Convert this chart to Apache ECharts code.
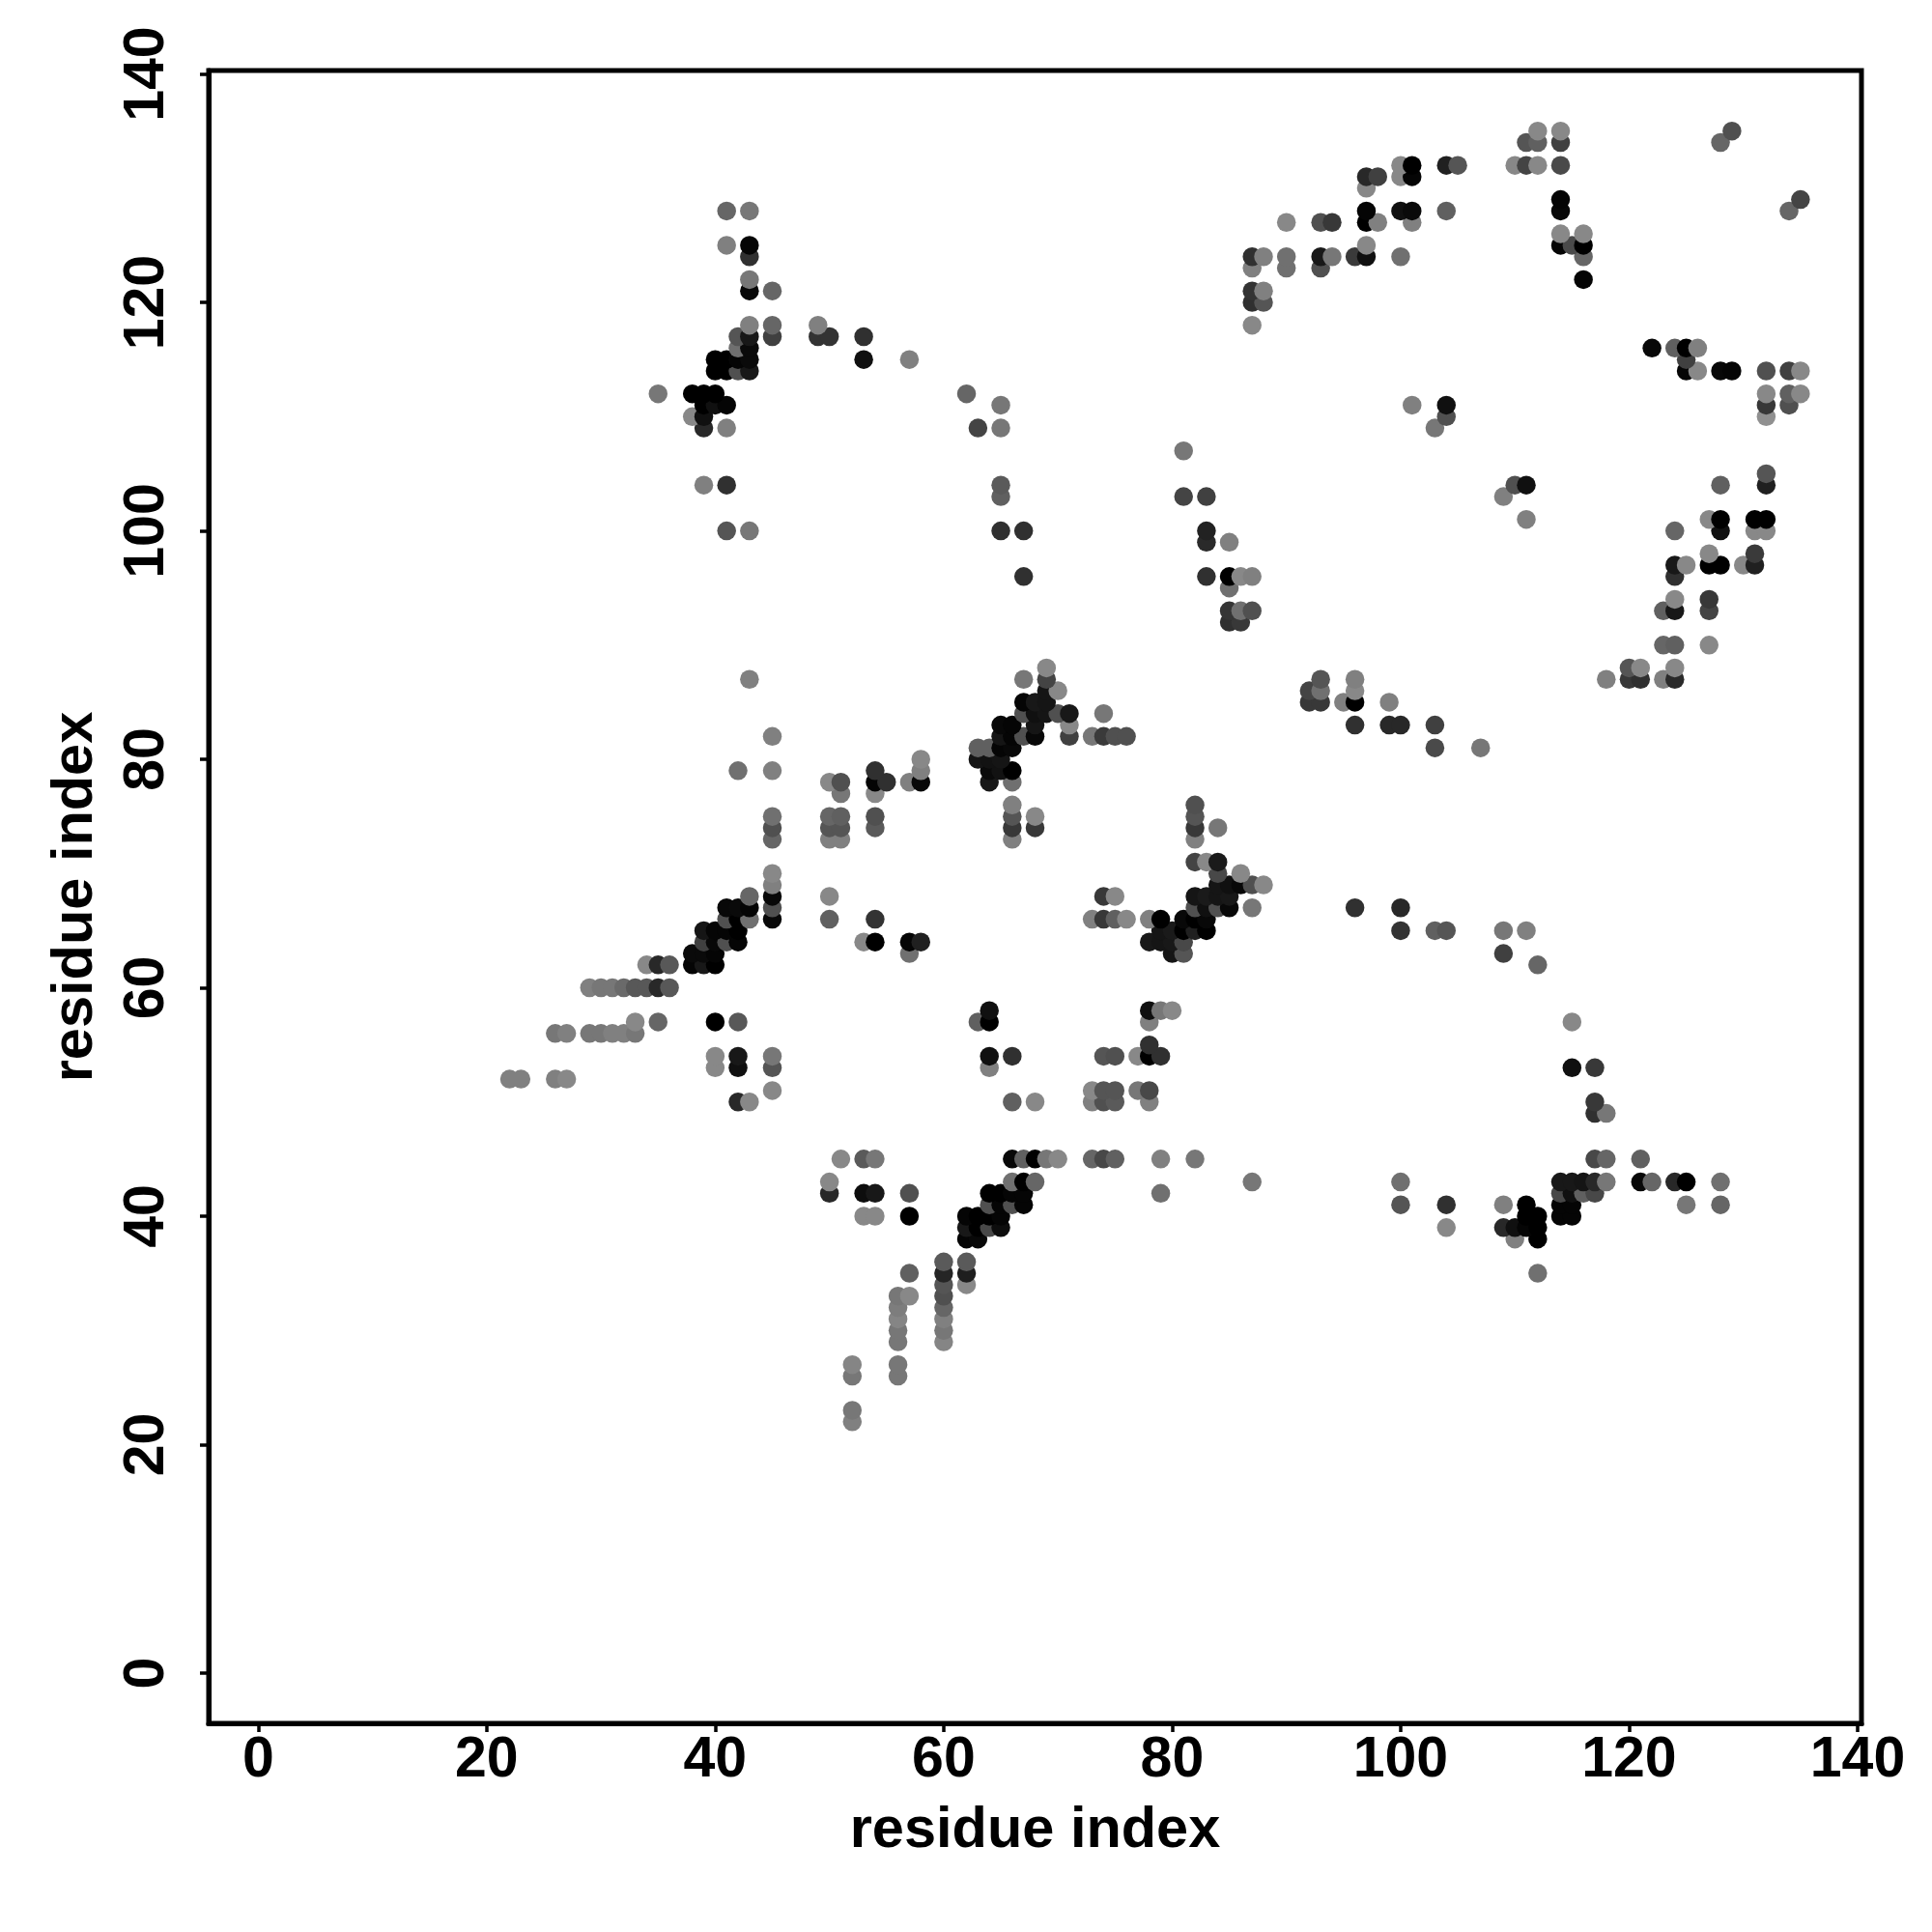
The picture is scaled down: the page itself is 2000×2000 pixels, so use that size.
<!DOCTYPE html>
<html><head><meta charset="utf-8">
<script src="https://cdn.jsdelivr.net/npm/echarts@6/dist/echarts.min.js"></script>
<style>html,body{margin:0;background:#fff}#c{width:2000px;height:2000px}</style></head>
<body><div id="c"></div>
<script>
const xTicks=[0,20,40,60,80,100,120,140];
const yTicks=[0,20,40,60,80,100,120,140];
const axisTitle='residue index';
// each row: [x residue, grey level of the contact]
const y22=[[52,0x80]];
const y23=[[52,0x77]];
const y26=[[52,0x77],[56,0x77]];
const y27=[[52,0x85],[56,0x77]];
const y29=[[56,0x77],[60,0x85]];
const y30=[[56,0x77],[60,0x77]];
const y31=[[56,0x85],[60,0x80]];
const y32=[[56,0x7d],[60,0x66]];
const y33=[[56,0x77],[57,0x88],[60,0x50]];
const y34=[[60,0x55],[62,0x88]];
const y35=[[57,0x60],[60,0x25],[62,0x1e],[112,0x70]];
const y36=[[60,0x5a],[62,0x5a]];
const y38=[[62,5],[63,8],[110,0x80],[112,0]];
const y39=[[62,0x18],[63,0],[64,0x48],[65,0x0d],[104,0x88],[109,0x28],[110,0x10],[111,5],[112,0]];
const y40=[[53,0x88],[54,0x88],[57,0],[62,5],[63,0],[64,0],[65,5],[111,0],[112,0],[114,5],[115,5]];
const y41=[[64,0x50],[65,5],[66,0x50],[67,5],[100,0x55],[104,0x30],[109,0x80],[111,0],[114,5],[115,5],[125,0x77],[128,0x66]];
const y42=[[50,0x28],[53,0x0d],[54,0x18],[57,0x50],[64,0],[65,0],[66,5],[67,5],[79,0x70],[114,0x48],[115,0x10],[116,0x60],[117,0x48]];
const y43=[[50,0x88],[66,0x70],[67,0],[68,0x66],[87,0x77],[100,0x70],[114,0x18],[115,0x18],[116,0x15],[117,0x28],[118,0x77],[121,8],[122,0x66],[124,0x28],[125,0],[128,0x70]];
const y45=[[51,0x88],[53,0x5a],[54,0x77],[66,8],[67,0x60],[68,0],[69,0x77],[70,0x88],[73,0x66],[74,0x48],[75,0x60],[79,0x80],[82,0x77],[117,0x48],[118,0x66],[121,0x60]];
const y49=[[117,0x30],[118,0x77]];
const y50=[[42,0x28],[43,0x88],[66,0x60],[68,0x88],[73,0x80],[74,0x50],[75,0x5a],[78,0x80],[117,0x38]];
const y51=[[45,0x88],[73,0x88],[74,0x55],[75,0x55],[77,0x77],[78,0x48]];
const y52=[[22,0x80],[23,0x80],[26,0x80],[27,0x88]];
const y53=[[40,0x88],[42,0x10],[45,0x55],[64,0x80],[115,0x10],[117,0x38]];
const y54=[[40,0x88],[42,0x18],[45,0x77],[64,0x10],[66,0x30],[74,0x55],[75,0x50],[77,0x88],[78,0],[79,0x30]];
const y55=[[78,0x30]];
const y56=[[26,0x77],[27,0x80],[29,0x77],[30,0x77],[31,0x80],[32,0x80],[33,0x77]];
const y57=[[33,0x88],[35,0x66],[40,0],[42,0x58],[63,0x60],[64,0],[78,0x80],[115,0x88]];
const y58=[[64,0x10],[78,0x10],[79,0x77],[80,0x88]];
const y60=[[29,0x80],[30,0x77],[31,0x77],[32,0x6a],[33,0x58],[34,0x58],[35,0x28],[36,0x58]];
const y62=[[34,0x88],[35,0x28],[36,0x58],[38,5],[39,0x18],[40,0],[112,0x66]];
const y63=[[38,0x0a],[39,0x0a],[40,5],[57,0x70],[80,0x15],[81,0x55],[109,0x40]];
const y64=[[39,0x40],[40,8],[41,0x50],[42,5],[53,0x88],[54,0],[57,5],[58,0x20],[78,0x18],[79,0x15],[80,0x18],[81,0x48]];
const y65=[[39,0x15],[40,5],[41,5],[42,0],[79,0x15],[80,0x1a],[81,0],[82,0x20],[83,0],[100,0x33],[103,0x60],[104,0x55],[109,0x77],[111,0x80]];
const y66=[[41,0x50],[42,0],[43,0x70],[45,8],[50,0x60],[54,0x33],[73,0x80],[74,0x38],[75,0x60],[76,0x88],[78,0x80],[79,0],[81,8],[82,0],[83,8]];
const y67=[[41,8],[42,0x0a],[43,5],[45,0x50],[82,0x50],[83,0x10],[84,0x50],[85,8],[87,0x77],[96,0x30],[100,0x28]];
const y68=[[43,0x66],[45,8],[50,0x88],[74,0x38],[75,0x88],[82,0x15],[83,0x1a],[84,0x15],[85,0x18]];
const y69=[[45,0x80],[84,0x15],[85,0x10],[86,8],[87,0x50],[88,0x88]];
const y70=[[45,0x88],[84,0x48],[86,0x88]];
const y71=[[82,0x44],[83,0x88],[84,0x1a]];
const y73=[[45,0x66],[50,0x80],[51,0x80],[66,0x80],[82,0x80]];
const y74=[[45,0x50],[50,0x55],[51,0x55],[54,0x5a],[66,0x38],[68,0x38],[82,0x38],[84,0x77]];
const y75=[[45,0x70],[50,0x66],[51,0x60],[54,0x50],[66,0x55],[68,0x88],[82,0x55]];
const y76=[[66,0x80],[82,0x50]];
const y77=[[51,0x77],[54,0x88]];
const y78=[[50,0x88],[51,0x50],[54,5],[55,0x30],[57,0x80],[58,8],[64,0x18],[66,0x70]];
const y79=[[42,0x70],[45,0x80],[54,0x30],[58,0x80],[64,0x0a],[65,0x12],[66,0]];
const y80=[[58,0x88],[63,0x15],[64,0x12],[65,0x15]];
const y81=[[63,0x60],[64,0x60],[65,5],[66,8],[103,0x4a],[107,0x77]];
const y82=[[45,0x80],[65,0x15],[66,5],[67,0x50],[68,8],[71,0x40],[73,0x77],[74,0x3a],[75,0x50],[76,0x50]];
const y83=[[65,8],[66,5],[68,0x15],[71,0x88],[96,0x30],[99,0x28],[100,0x28],[103,0x40]];
const y84=[[67,0x50],[68,0x10],[69,0x15],[70,0x50],[71,0x18],[74,0x77]];
const y85=[[67,5],[68,0x18],[69,0x15],[92,0x38],[93,0x38],[95,0x80],[96,0],[99,0x80]];
const y86=[[69,0x15],[70,0x88],[92,0x44],[93,0x70],[96,0x88]];
const y87=[[43,0x80],[67,0x77],[69,0x44],[93,0x55],[96,0x80],[118,0x80],[120,0x38],[121,0x30],[123,0x80],[124,0x2a]];
const y88=[[69,0x88],[120,0x55],[121,0x88],[124,0x88]];
const y90=[[123,0x66],[124,0x60],[127,0x88]];
const y92=[[85,0x30],[86,0x38]];
const y93=[[85,0x35],[86,0x70],[87,0x50],[123,0x60],[124,0x18],[127,0x44]];
const y94=[[124,0x88],[127,0x38]];
const y95=[[85,0x70]];
const y96=[[67,0x30],[83,0x30],[85,0],[86,0x88],[87,0x80],[124,0x30]];
const y97=[[124,0x18],[125,0x88],[127,0],[128,0],[130,0x88],[131,0x20]];
const y98=[[127,0x88],[131,0x3a]];
const y99=[[83,0x2a],[85,0x80]];
const y100=[[41,0x55],[43,0x77],[65,0x30],[67,0x30],[83,0x22],[124,0x66],[128,0x10],[131,0x88],[132,0x88]];
const y101=[[111,0x80],[127,0x88],[128,0],[131,0],[132,0]];
const y103=[[65,0x60],[81,0x44],[83,0x40],[109,0x80]];
const y104=[[39,0x80],[41,0x30],[65,0x5a],[110,0x50],[111,0x10],[128,0x60],[132,0x20]];
const y105=[[132,0x55]];
const y107=[[81,0x77]];
const y109=[[39,0x28],[41,0x80],[63,0x44],[65,0x77],[103,0x77]];
const y110=[[38,0x88],[39,0x10],[104,0x50],[132,0x90]];
const y111=[[39,0],[40,0x10],[41,5],[65,0x77],[101,0x80],[104,0x10],[132,0x38],[134,0x50]];
const y112=[[35,0x77],[38,0],[39,0],[40,0],[62,0x66],[132,0x88],[134,0x60],[135,0x88]];
const y114=[[40,0],[41,0],[42,0x50],[43,0x18],[125,5],[126,0x88],[128,8],[129,5],[132,0x50],[134,0x40],[135,0x88]];
const y115=[[40,0],[41,0],[42,5],[43,0x0a],[53,0x10],[57,0x80],[125,0x40]];
const y116=[[42,0x70],[43,0x0a],[122,8],[124,0x60],[125,0],[126,0x80]];
const y117=[[42,0x55],[43,0x18],[45,0x40],[49,0x33],[50,0x33],[53,0x30]];
const y118=[[43,0x80],[45,0x66],[49,0x80],[87,0x88]];
const y120=[[87,0x30],[88,0x55]];
const y121=[[43,8],[45,0x66],[87,0x33],[88,0x80]];
const y122=[[43,0x77],[116,5]];
const y123=[[87,0x80],[90,0x70],[93,0x50]];
const y124=[[43,0x30],[87,0x30],[88,0x80],[90,0x70],[93,0x18],[94,0x77],[96,0x3a],[97,0x10],[100,0x70],[116,0x66]];
const y125=[[41,0x80],[43,5],[97,0x88],[114,5],[115,0x4a],[116,0]];
const y126=[[114,0x88],[116,0x88]];
const y127=[[90,0x88],[93,0x50],[94,0x38],[97,0],[98,0x80],[101,0x80]];
const y128=[[41,0x66],[43,0x77],[97,5],[100,0x10],[101,0x0a],[104,0x60],[114,8],[134,0x66]];
const y129=[[114,5],[135,0x44]];
const y130=[[97,0x88]];
const y131=[[97,0x28],[98,0x40],[100,0x88],[101,5]];
const y132=[[100,0x88],[101,0],[104,0x20],[105,0x55],[110,0x88],[111,0x44],[112,0x88],[114,0x4a]];
const y134=[[111,0x55],[112,0x60],[114,0x40],[128,0x66]];
const y135=[[112,0x88],[114,0x88],[129,0x50]];

const rows=[[22,y22],[23,y23],[26,y26],[27,y27],[29,y29],[30,y30],[31,y31],[32,y32],[33,y33],[34,y34],[35,y35],[36,y36],[38,y38],[39,y39],[40,y40],[41,y41],[42,y42],[43,y43],[45,y45],[49,y49],[50,y50],[51,y51],[52,y52],[53,y53],[54,y54],[55,y55],[56,y56],[57,y57],[58,y58],[60,y60],[62,y62],[63,y63],[64,y64],[65,y65],[66,y66],[67,y67],[68,y68],[69,y69],[70,y70],[71,y71],[73,y73],[74,y74],[75,y75],[76,y76],[77,y77],[78,y78],[79,y79],[80,y80],[81,y81],[82,y82],[83,y83],[84,y84],[85,y85],[86,y86],[87,y87],[88,y88],[90,y90],[92,y92],[93,y93],[94,y94],[95,y95],[96,y96],[97,y97],[98,y98],[99,y99],[100,y100],[101,y101],[103,y103],[104,y104],[105,y105],[107,y107],[109,y109],[110,y110],[111,y111],[112,y112],[114,y114],[115,y115],[116,y116],[117,y117],[118,y118],[120,y120],[121,y121],[122,y122],[123,y123],[124,y124],[125,y125],[126,y126],[127,y127],[128,y128],[129,y129],[130,y130],[131,y131],[132,y132],[134,y134],[135,y135]];
const points=[];
rows.forEach(([y,row])=>row.forEach(([x,g])=>points.push([x,y,g])));

const labelFont={fontFamily:'Liberation Sans',fontWeight:'bold',fontSize:59,color:'#000'};
const nameFont={fontFamily:'Liberation Sans',fontWeight:'bold',fontSize:59.5,color:'#000'};
const frameLine={color:'#000',width:5};
const tickLine={color:'#000',width:3.5};
const chart=echarts.init(document.getElementById('c'),null,{renderer:'canvas'});
chart.setOption({
  animation:false,
  backgroundColor:'#fff',
  grid:{show:true,left:216,top:73,width:1711,height:1711,borderColor:'#000',borderWidth:5,backgroundColor:'#fff',containLabel:false},
  xAxis:{type:'value',min:-4.34,max:140.34,
    axisLine:{show:true,onZero:false,lineStyle:frameLine},
    axisTick:{show:true,length:9,lineStyle:tickLine,customValues:xTicks},
    axisLabel:Object.assign({margin:9,customValues:xTicks,hideOverlap:false},labelFont),
    splitLine:{show:false},
    name:axisTitle,nameLocation:'middle',nameGap:82,nameTextStyle:nameFont},
  yAxis:{type:'value',min:-4.4,max:140.3,
    axisLine:{show:true,onZero:false,lineStyle:frameLine},
    axisTick:{show:true,length:9,lineStyle:tickLine,customValues:yTicks},
    axisLabel:Object.assign({margin:34,rotate:90,customValues:yTicks,hideOverlap:false},labelFont),
    splitLine:{show:false},
    name:axisTitle,nameLocation:'middle',nameGap:107,nameRotate:90,nameTextStyle:nameFont},
  series:[{type:'scatter',data:points,symbol:'circle',symbolSize:19.5,clip:false,large:false,progressive:0,
    encode:{x:0,y:1},
    itemStyle:{opacity:1,color:p=>{const g=p.value[2];return `rgb(${g},${g},${g})`;}}}]
});
</script></body></html>
